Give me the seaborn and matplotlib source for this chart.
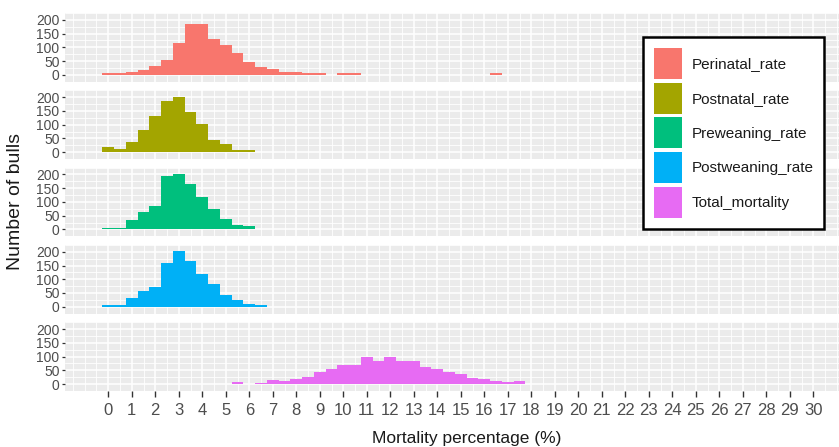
import numpy as np
import matplotlib
matplotlib.use('Agg')
import matplotlib.pyplot as plt
import seaborn as sns
from matplotlib.patches import Patch

# bin centres (binwidth 0.5) and counts
bin_centers = [0, 0.5, 1, 1.5, 2, 2.5, 3, 3.5, 4, 4.5, 5, 5.5, 6, 6.5, 7, 7.5, 8, 8.5,
               9, 9.5, 10, 10.5, 11, 11.5, 12, 12.5, 13, 13.5, 14, 14.5, 15, 15.5, 16, 16.5, 17, 17.5]
perinatal = [5, 5, 9, 16, 31, 53, 116, 185, 185, 132, 110, 79, 47, 27, 21, 10, 10, 5,
             5, 0, 5, 5, 0, 0, 0, 0, 0, 0, 0, 0, 0, 0, 0, 5, 0, 0]
postnatal = [17, 12, 38, 81, 133, 186, 202, 145, 102, 44, 29, 7, 7, 0, 0, 0, 0, 0,
             0, 0, 0, 0, 0, 0, 0, 0, 0, 0, 0, 0, 0, 0, 0, 0, 0, 0]
preweaning = [7, 7, 35, 65, 86, 195, 202, 165, 117, 76, 38, 17, 12, 0, 0, 0, 0, 0,
              0, 0, 0, 0, 0, 0, 0, 0, 0, 0, 0, 0, 0, 0, 0, 0, 0, 0]
postweaning = [6, 6, 30, 57, 73, 160, 203, 167, 119, 82, 41, 25, 10, 5, 0, 0, 0, 0,
               0, 0, 0, 0, 0, 0, 0, 0, 0, 0, 0, 0, 0, 0, 0, 0, 0, 0]
total = [0, 0, 0, 0, 0, 0, 0, 0, 0, 0, 0, 6, 0, 5, 16, 10, 17, 27,
         42, 53, 68, 68, 99, 84, 99, 84, 84, 63, 53, 42, 36, 22, 17, 11, 6, 11]

traits = ['Perinatal_rate', 'Postnatal_rate', 'Preweaning_rate', 'Postweaning_rate', 'Total_mortality']
series = [perinatal, postnatal, preweaning, postweaning, total]
colors = ['#F8766D', '#A3A500', '#00BF7D', '#00B0F6', '#E76BF3']
x_ticks = list(range(31))
y_ticks = [0, 50, 100, 150, 200]

sns.set_theme(style='darkgrid')
plt.rcParams['font.family'] = ['Liberation Sans', 'DejaVu Sans']

W, H = 839, 447
fig = plt.figure(figsize=(W / 100, H / 100), dpi=100)

left_px = 65
panel_h = 68.7
for i, (name, counts, col) in enumerate(zip(traits, series, colors)):
    top_px = 13 + 77.3 * i
    ax = fig.add_axes([left_px / W, 1 - (top_px + panel_h) / H, (W - left_px) / W, panel_h / H])
    ax.set_facecolor('#EBEBEB')
    sns.histplot(x=bin_centers, weights=counts, binwidth=0.5, binrange=(-0.25, 17.75),
                 color=col, alpha=1, linewidth=0, ax=ax)
    ax.set_xlim(-1.84, 31.09)
    ax.set_ylim(-16, 220)
    ax.set_xticks(x_ticks)
    ax.set_xticks(np.arange(-1.5, 31.1, 0.5), minor=True)
    ax.set_yticks(y_ticks)
    ax.set_yticks(np.arange(-25, 226, 25), minor=True)
    ax.grid(which='major', color='white', linewidth=1.1)
    ax.grid(which='minor', color='white', linewidth=0.6)
    ax.set_axisbelow(True)
    for s in ax.spines.values():
        s.set_visible(False)
    ax.set_xlabel('')
    ax.set_ylabel('')
    ax.tick_params(which='minor', length=0)
    ax.tick_params(axis='y', which='major', left=True, length=2.5, width=0.9, color='#333333',
                   pad=1.5, labelsize=10, labelcolor='#4D4D4D')
    if i == len(traits) - 1:
        ax.tick_params(axis='x', which='major', bottom=True, length=4, width=1, color='#333333',
                       pad=4.5, labelsize=12, labelcolor='#4D4D4D')
    else:
        ax.tick_params(axis='x', which='major', length=0, labelbottom=False)

fig.text(467 / W, 1 - 443 / H, 'Mortality percentage (%)', ha='center', va='baseline',
         fontsize=12.5, color='#1A1A1A')
fig.text(16 / W, 1 - 201.5 / H, 'Number of bulls', rotation=90, ha='center', va='center',
         fontsize=14, color='#1A1A1A')

handles = [Patch(facecolor=c, edgecolor='none') for c in colors]
leg = fig.legend(handles, traits, loc='upper left', bbox_to_anchor=(643 / W, 1 - 37 / H),
                 frameon=True, fancybox=False, framealpha=1, edgecolor='black', facecolor='white',
                 prop={'size': 11}, handlelength=1.83, handleheight=2.75, labelspacing=0.25,
                 handletextpad=0.65, borderpad=0.7, borderaxespad=0)
leg.get_frame().set_linewidth(1.8)
for t in leg.get_texts():
    t.set_color('#1A1A1A')

fig.savefig('out.png', dpi=100)
